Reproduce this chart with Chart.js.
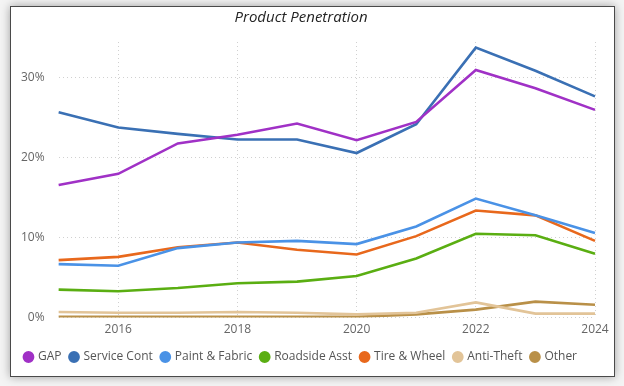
<!DOCTYPE html>
<html>
<head>
<meta charset="utf-8">
<script src="https://cdn.jsdelivr.net/npm/chart.js@4/dist/chart.umd.min.js"></script>
<style>
  html, body { margin: 0; padding: 0; background: #f4f4f4; }
  #wrap { position: relative; width: 624px; height: 386px; overflow: hidden; }
  #card {
    position: absolute; left: 10px; top: 6px; width: 603px; height: 369px;
    background: #fff; border: 1px solid #4a4a4a;
    box-shadow: 0 0 9px rgba(0,0,0,0.35);
  }
  #chart { position: absolute; left: 0; top: 0; }
</style>
</head>
<body>
<div id="wrap">
  <div id="card"></div>
  <canvas id="chart" width="624" height="386"></canvas>
</div>
<script>
// datos
const years = ['2015', '2016', '2017', '2018', '2019', '2020', '2021', '2022', '2023', '2024'];
const gap        = [16.6, 18.0, 21.8, 22.9, 24.3, 22.2, 24.5, 31.0, 28.7, 26.0];
const serviceCont = [25.7, 23.8, 23.0, 22.3, 22.3, 20.6, 24.2, 33.8, 30.9, 27.7];
const paintFabric = [6.7, 6.5, 8.7, 9.4, 9.6, 9.2, 11.4, 14.9, 12.8, 10.6];
const roadside   = [3.5, 3.3, 3.7, 4.3, 4.5, 5.2, 7.4, 10.5, 10.3, 8.0];
const tireWheel  = [7.2, 7.6, 8.8, 9.4, 8.5, 7.9, 10.2, 13.4, 12.8, 9.6];
const antiTheft  = [0.7, 0.6, 0.6, 0.7, 0.6, 0.4, 0.6, 1.9, 0.5, 0.5];
const other      = [0.1, 0.1, 0.1, 0.1, 0.1, 0.1, 0.4, 1.0, 2.0, 1.6];
const yTicks = [0, 10, 20, 30];

const font = "'Segoe UI', 'Open Sans', 'DejaVu Sans', sans-serif";

function serie(label, data, color) {
  return {
    label: label,
    data: data,
    borderColor: color,
    backgroundColor: color,
    borderWidth: 2.6,
    pointRadius: 0,
    pointHoverRadius: 0,
    tension: 0
  };
}

const chartConfig = {
  type: 'line',
  data: {
    labels: years,
    datasets: [
      serie('GAP', gap, '#a031c6'),
      serie('Service Cont', serviceCont, '#3a70b4'),
      serie('Paint & Fabric', paintFabric, '#4a92e6'),
      serie('Roadside Asst', roadside, '#5aae12'),
      serie('Tire & Wheel', tireWheel, '#e8681c'),
      serie('Anti-Theft', antiTheft, '#e2c498'),
      serie('Other', other, '#b99048')
    ]
  },
  options: {
    responsive: false,
    animation: false,
    layout: { padding: { left: 7, right: 29, top: 8, bottom: 13 } },
    plugins: {
      title: {
        display: true,
        text: 'Product Penetration',
        color: '#252525',
        font: { family: font, size: 15, style: 'italic', weight: 'normal' },
        padding: { top: 1, bottom: 15 }
      },
      legend: {
        position: 'bottom',
        labels: {
          usePointStyle: true,
          pointStyle: 'circle',
          boxWidth: 7,
          boxHeight: 6.5,
          padding: 9,
          color: '#555',
          font: { family: font, size: 12 }
        }
      },
      tooltip: { enabled: false }
    },
    scales: {
      x: {
        offset: false,
        grid: {
          color: (ctx) => (ctx.index % 2 === 1 ? '#d0d0d0' : 'rgba(0,0,0,0)'),
          drawTicks: false
        },
        border: { display: false, dash: [1, 3] },
        ticks: {
          autoSkip: false,
          maxRotation: 0,
          padding: 5,
          color: '#666',
          font: { family: font, size: 12 },
          callback: (v, i) => (i % 2 === 1 ? years[i] : '')
        }
      },
      y: {
        min: 0,
        max: 34.5,
        afterBuildTicks: (axis) => { axis.ticks = yTicks.map(v => ({ value: v })); },
        grid: { color: '#d0d0d0', drawTicks: false },
        border: { display: false, dash: [1, 3] },
        ticks: {
          padding: 14,
          color: '#666',
          font: { family: font, size: 12 },
          callback: (v) => v + '%'
        }
      }
    }
  }
};

new Chart(document.getElementById('chart'), chartConfig);
</script>
</body>
</html>
